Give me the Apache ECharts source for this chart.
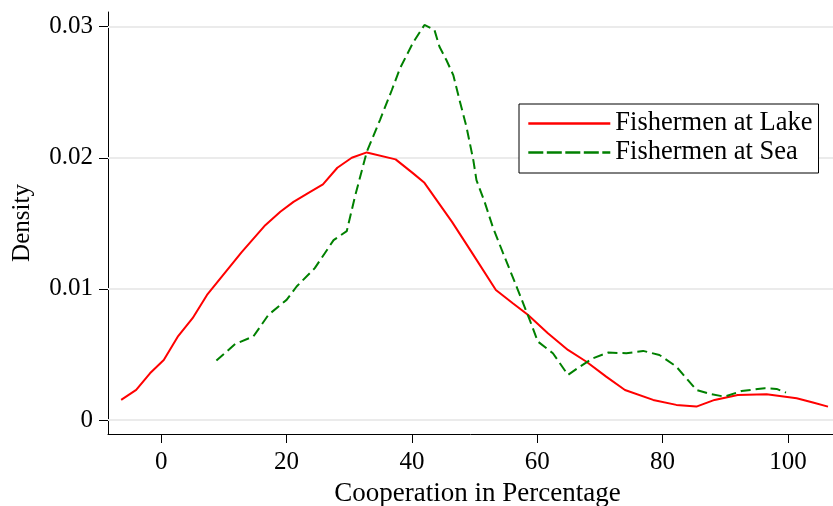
<!DOCTYPE html>
<html>
<head>
<meta charset="utf-8">
<script src="https://cdn.jsdelivr.net/npm/echarts@6/dist/echarts.min.js"></script>
<style>html,body{margin:0;padding:0;background:#fff}#c{width:833px;height:506px}</style>
</head>
<body>
<div id="c"></div>
<script>
const lakeX = [-6.4,-4.0,-1.8,0.4,2.7,5.0,7.3,12.8,16.6,19.0,21.1,23.5,25.8,28.1,30.4,32.8,37.4,40.2,42.0,46.4,49.5,53.4,56.1,58.5,61.7,64.9,67.8,71.0,74.0,78.5,82.2,85.4,88.3,92.0,96.6,101.4,104.0,106.4];
const lakeY = [0.00153,0.00229,0.00356,0.00458,0.0064,0.00776,0.00954,0.01278,0.01486,0.01588,0.01664,0.01733,0.01797,0.01924,0.0200,0.02041,0.01988,0.01881,0.01809,0.01511,0.01282,0.00992,0.00891,0.00802,0.00662,0.00534,0.00446,0.00331,0.00229,0.00153,0.00115,0.00102,0.00153,0.00191,0.00196,0.00166,0.00133,0.00102];
const seaX = [8.8,11.8,14.7,17.1,20.0,21.6,24.5,26.1,27.5,29.6,30.9,32.8,34.9,36.8,38.1,40.2,42.0,43.6,44.4,45.5,46.6,47.6,48.7,49.8,50.3,51.6,52.9,54.5,56.7,58.8,60.1,62.5,64.9,66.8,68.9,71.3,74.2,76.9,79.5,82.2,83.8,85.4,87.8,89.9,92.6,96.3,98.2,99.7];
const seaY = [0.00453,0.0058,0.00637,0.00802,0.00916,0.01018,0.01158,0.01272,0.01372,0.0144,0.01702,0.02046,0.02288,0.02517,0.02682,0.0288,0.03013,0.02975,0.02847,0.02746,0.02631,0.0244,0.02237,0.01982,0.0183,0.01664,0.01473,0.01278,0.01018,0.00763,0.00598,0.00509,0.00344,0.00407,0.00471,0.00514,0.00509,0.00527,0.00496,0.00407,0.00318,0.00229,0.00196,0.00178,0.00221,0.00242,0.00237,0.00209];
const xTicks = [0,20,40,60,80,100];
const yTicks = [0,0.01,0.02,0.03];
const yTickLabels = ['0','0.01','0.02','0.03'];
const seriesNames = ['Fishermen at Lake','Fishermen at Sea'];

const FONT = "'Liberation Serif','Times New Roman',serif";
const chart = echarts.init(document.getElementById('c'), null, {renderer:'canvas'});
const pairs = (xs, ys) => xs.map((x,i)=>[x, ys[i]]);

chart.setOption({
  animation: false,
  backgroundColor: '#fff',
  grid: {left:108, right:0, top:12, bottom:72, containLabel:false, outerBoundsMode:'none'},
  xAxis: {
    type:'value', min:-8.5, max:107.2,
    name:'Cooperation in Percentage', nameLocation:'middle', nameGap:46,
    nameTextStyle:{fontFamily:FONT, fontSize:27, color:'#000', padding:[0,0,0,14]},
    axisLine:{show:true, onZero:false, lineStyle:{color:'#000', width:1}},
    axisTick:{show:true, inside:false, length:9, lineStyle:{color:'#000'}, customValues:xTicks},
    axisLabel:{fontFamily:FONT, fontSize:25, color:'#000', margin:16, customValues:xTicks},
    splitLine:{show:false}
  },
  yAxis: {
    type:'value', min:-0.00107, max:0.03112,
    name:'Density', nameLocation:'middle', nameGap:73, nameRotate:90,
    nameTextStyle:{fontFamily:FONT, fontSize:25, color:'#000'},
    axisLine:{show:true, onZero:false, lineStyle:{color:'#000', width:1}},
    axisTick:{show:true, inside:false, length:9, lineStyle:{color:'#000'}, customValues:yTicks},
    axisLabel:{fontFamily:FONT, fontSize:25, color:'#000', margin:15, customValues:yTicks,
      formatter:(v)=>{const i=yTicks.findIndex(t=>Math.abs(t-v)<1e-9); return i>=0?yTickLabels[i]:'';}},
    splitLine:{show:false}
  },
  legend: {
    orient:'vertical', left:519, top:104,
    padding:[5,6,6,8], itemGap:0, itemWidth:82, itemHeight:14,
    backgroundColor:'#fff', borderColor:'#000', borderWidth:1, borderRadius:0,
    textStyle:{fontFamily:FONT, fontSize:26.5, color:'#000', lineHeight:29},
    data:[
      {name:seriesNames[0], itemStyle:{opacity:0}, lineStyle:{width:2.6}},
      {name:seriesNames[1], itemStyle:{opacity:0}, lineStyle:{width:2.6, type:[15,3.5]}}
    ]
  },
  series: [
    {
      name:seriesNames[0], type:'line', symbol:'none', smooth:false,
      data:pairs(lakeX, lakeY), z:3,
      lineStyle:{color:'#ff0000', width:2}, itemStyle:{color:'#ff0000'},
      markLine:{
        silent:true, symbol:['none','none'], label:{show:false}, animation:false,
        lineStyle:{color:'#ebebeb', width:2, type:'solid'},
        data: yTicks.map(v=>({yAxis:v})),
        z:1
      }
    },
    {
      name:seriesNames[1], type:'line', symbol:'none', smooth:false,
      data:pairs(seaX, seaY), z:4,
      lineStyle:{color:'#008000', width:2, type:[10,5]}, itemStyle:{color:'#008000'}
    }
  ]
});
</script>
</body>
</html>
